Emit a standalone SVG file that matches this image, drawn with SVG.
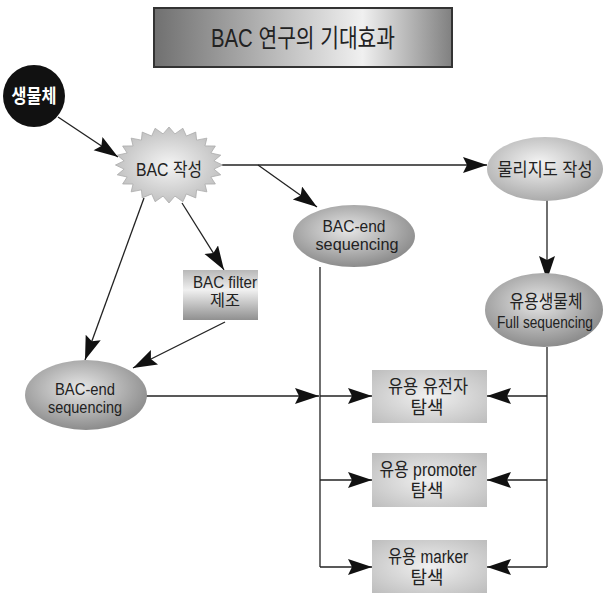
<svg xmlns="http://www.w3.org/2000/svg" width="603" height="593" viewBox="0 0 603 593">
<defs>
<linearGradient id="gTitle" x1="0" y1="0" x2="1" y2="0">
<stop offset="0" stop-color="#707070"/><stop offset="0.7" stop-color="#f0f0f0"/><stop offset="1" stop-color="#808080"/>
</linearGradient>
<linearGradient id="gFilter" x1="0" y1="0" x2="0" y2="1">
<stop offset="0" stop-color="#b8b8b8"/><stop offset="0.4" stop-color="#f0f0f0"/><stop offset="1" stop-color="#909090"/>
</linearGradient>
<radialGradient id="gBox" cx="0.5" cy="0.5" r="0.7">
<stop offset="0" stop-color="#f0f0f0"/><stop offset="1" stop-color="#bdbdbd"/>
</radialGradient>
<radialGradient id="gDark" cx="0.45" cy="0.4" r="0.6">
<stop offset="0" stop-color="#e6e6e6"/><stop offset="1" stop-color="#8c8c8c"/>
</radialGradient>
<radialGradient id="gLight" cx="0.45" cy="0.4" r="0.6">
<stop offset="0" stop-color="#f4f4f4"/><stop offset="1" stop-color="#ababab"/>
</radialGradient>
<radialGradient id="gStar" cx="0.5" cy="0.5" r="0.55">
<stop offset="0" stop-color="#f4f4f4"/><stop offset="1" stop-color="#bdbdbd"/>
</radialGradient>
<marker id="ah" markerUnits="userSpaceOnUse" markerWidth="26" markerHeight="18" refX="24" refY="8" orient="auto">
<path d="M0,0 L24,8 L0,16 L4,8 z" fill="#111"/>
</marker>
<style>
.t{font-family:"Liberation Sans","Noto Sans CJK KR",sans-serif;font-size:18px;fill:#222;text-anchor:middle}
.s{font-size:16px}
.c{stroke:#222;stroke-width:1.3;fill:none}
.a{marker-end:url(#ah)}
</style>
</defs>

<g id="title">
<rect x="154" y="8" width="298" height="59" fill="url(#gTitle)" stroke="#333" stroke-width="2"/>
<text class="t" x="303" y="47" style="font-size:25px" textLength="184" lengthAdjust="spacingAndGlyphs">BAC 연구의 기대효과</text>
</g>

<g id="connectors">
<line class="c a" x1="58" y1="117" x2="118" y2="157"/>
<line class="c a" x1="222" y1="165" x2="487" y2="165"/>
<line class="c a" x1="258" y1="165" x2="317" y2="207"/>
<line class="c a" x1="182" y1="203" x2="224" y2="270"/>
<line class="c a" x1="144" y1="198" x2="85" y2="360"/>
<line class="c a" x1="225" y1="322" x2="133" y2="368"/>
<line class="c a" x1="547" y1="200" x2="547" y2="280"/>
<line class="c a" x1="145" y1="396" x2="319" y2="396"/>
<polyline class="c" points="320,267 320,567"/>
<line class="c a" x1="320" y1="396" x2="372" y2="396"/>
<line class="c a" x1="320" y1="480" x2="372" y2="480"/>
<line class="c a" x1="320" y1="567" x2="372" y2="567"/>
<polyline class="c" points="547,347 547,567"/>
<line class="c a" x1="547" y1="396" x2="487" y2="396"/>
<line class="c a" x1="547" y1="480" x2="487" y2="480"/>
<line class="c a" x1="547" y1="567" x2="487" y2="567"/>
</g>

<g id="organism">
<circle cx="34" cy="96" r="31" fill="#111"/>
<text class="t" x="34" y="103" style="fill:#fff;font-weight:bold;font-size:19px" textLength="45" lengthAdjust="spacingAndGlyphs">생물체</text>
</g>

<g id="bac-make">
<polygon transform="translate(169,165) scale(1.03,0.95)" fill="url(#gStar)" stroke="#aaa" stroke-width="0.8" points="52,0 43.62,4.31 50.23,10.35 40.65,12.63 45.03,20 34.91,20.09 36.77,28.28 26.79,26.18 26,34.64 16.84,30.49 13.46,38.64 5.74,32.72 0,40 -5.74,32.72 -13.46,38.64 -16.84,30.49 -26,34.64 -26.79,26.18 -36.77,28.28 -34.91,20.09 -45.03,20 -40.65,12.63 -50.23,10.35 -43.62,4.31 -52,0 -43.62,-4.31 -50.23,-10.35 -40.65,-12.63 -45.03,-20 -34.91,-20.09 -36.77,-28.28 -26.79,-26.18 -26,-34.64 -16.84,-30.49 -13.46,-38.64 -5.74,-32.72 0,-40 5.74,-32.72 13.46,-38.64 16.84,-30.49 26,-34.64 26.79,-26.18 36.77,-28.28 34.91,-20.09 45.03,-20 40.65,-12.63 50.23,-10.35 43.62,-4.31"/>
<text class="t" x="169" y="176" textLength="66" lengthAdjust="spacingAndGlyphs">BAC 작성</text>
</g>

<g id="physical-map">
<ellipse cx="545" cy="169" rx="58" ry="32" fill="url(#gLight)"/>
<text class="t" x="545" y="176" textLength="95" lengthAdjust="spacingAndGlyphs">물리지도 작성</text>
</g>

<g id="bac-end-upper">
<ellipse cx="354" cy="236" rx="61" ry="31" fill="url(#gDark)"/>
<text class="t s" x="354" y="232" textLength="63" lengthAdjust="spacingAndGlyphs">BAC-end</text>
<text class="t s" x="357" y="250" textLength="83" lengthAdjust="spacingAndGlyphs">sequencing</text>
</g>

<g id="bac-filter">
<rect x="183" y="270" width="75" height="50" fill="url(#gFilter)"/>
<text class="t s" x="225" y="288" textLength="64" lengthAdjust="spacingAndGlyphs">BAC filter</text>
<text class="t s" x="225" y="306" textLength="30" lengthAdjust="spacingAndGlyphs">제조</text>
</g>

<g id="bac-end-lower">
<ellipse cx="86" cy="395" rx="61" ry="35" fill="url(#gDark)"/>
<text class="t s" x="85" y="395" textLength="60" lengthAdjust="spacingAndGlyphs">BAC-end</text>
<text class="t s" x="85" y="413" textLength="74" lengthAdjust="spacingAndGlyphs">sequencing</text>
</g>

<g id="useful-organism">
<ellipse cx="544" cy="310" rx="59" ry="37" fill="url(#gDark)"/>
<text class="t" x="546" y="308" textLength="73" lengthAdjust="spacingAndGlyphs">유용생물체</text>
<text class="t s" x="545" y="328" textLength="96" lengthAdjust="spacingAndGlyphs">Full sequencing</text>
</g>

<g id="gene-search">
<rect x="372" y="370" width="115" height="53" fill="url(#gBox)"/>
<text class="t" x="428" y="393" textLength="80" lengthAdjust="spacingAndGlyphs">유용 유전자</text>
<text class="t" x="427" y="414" textLength="33" lengthAdjust="spacingAndGlyphs">탐색</text>
</g>

<g id="promoter-search">
<rect x="372" y="453" width="115" height="54" fill="url(#gBox)"/>
<text class="t" x="428" y="476" textLength="97" lengthAdjust="spacingAndGlyphs">유용 promoter</text>
<text class="t" x="427" y="497" textLength="33" lengthAdjust="spacingAndGlyphs">탐색</text>
</g>

<g id="marker-search">
<rect x="372" y="540" width="115" height="53" fill="url(#gBox)"/>
<text class="t" x="428" y="563" textLength="80" lengthAdjust="spacingAndGlyphs">유용 marker</text>
<text class="t" x="427" y="584" textLength="33" lengthAdjust="spacingAndGlyphs">탐색</text>
</g>
</svg>
